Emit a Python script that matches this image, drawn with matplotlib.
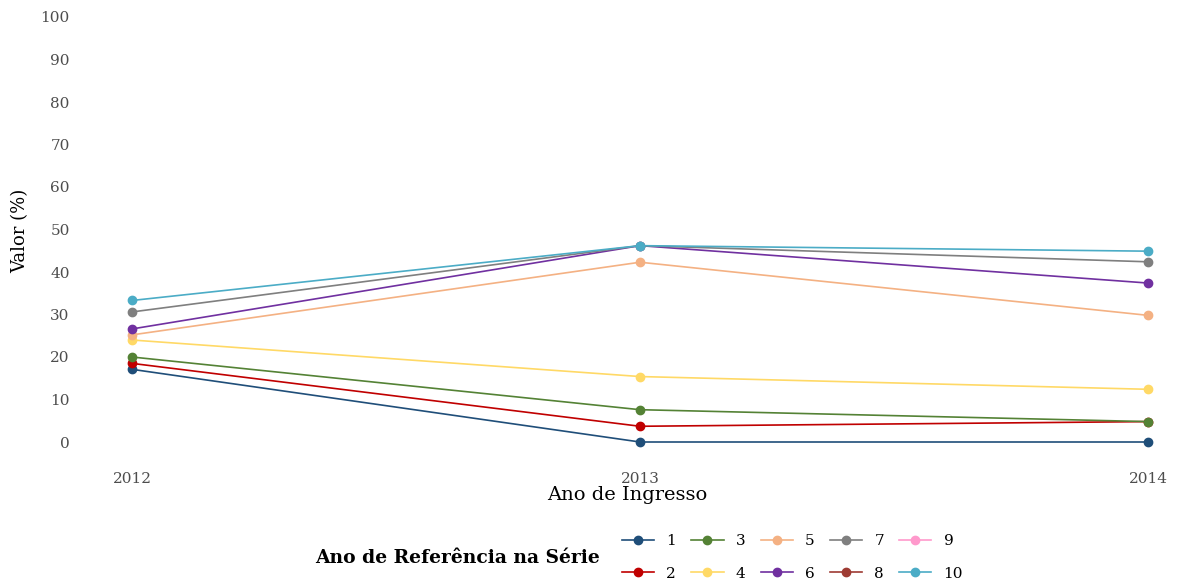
import numpy as np
import matplotlib
matplotlib.use("Agg")
import matplotlib.pyplot as plt
from matplotlib.lines import Line2D

years = [2012, 2013, 2014]
series_names = ["1", "2", "3", "4", "5", "6", "7", "8", "9", "10"]
s1 = [17.1, 0.0, 0.0]
s2 = [18.5, 3.7, 4.8]
s3 = [20.0, 7.6, 4.8]
s4 = [24.0, 15.4, 12.4]
s5 = [25.2, 42.3, 29.8]
s6 = [26.6, 46.2, 37.4]
s7 = [30.6, 46.2, 42.4]
s8 = [np.nan, np.nan, np.nan]
s9 = [np.nan, np.nan, np.nan]
s10 = [33.3, 46.2, 44.9]
values = [s1, s2, s3, s4, s5, s6, s7, s8, s9, s10]
colors = ["#1F4E79", "#C00000", "#548235", "#FFD966", "#F4B183",
          "#7030A0", "#7F7F7F", "#9E3B33", "#FF99CC", "#4BACC6"]
y_ticks = [0, 10, 20, 30, 40, 50, 60, 70, 80, 90, 100]

plt.rcParams['font.family'] = ['DejaVu Serif', 'Liberation Serif']

W, H = 1177, 584
fig = plt.figure(figsize=(W / 100, H / 100), dpi=100)
left_px, right_px, top_px, bot_px = 78, 1177, 0, 462
ax = fig.add_axes([left_px / W, 1 - bot_px / H, (right_px - left_px) / W, (bot_px - top_px) / H])

handles = []
for name, vals, c in zip(series_names, values, colors):
    ax.plot(years, vals, color=c, lw=1.2, marker="o", ms=6, zorder=3)
    handles.append(Line2D([0], [0], color=c, lw=1.2, marker="o", ms=6))

px_per_year = 508.0
px_per_unit = 4.25
ax.set_xlim(2012 - (132 - left_px) / px_per_year, 2014 + (right_px - 1148) / px_per_year)
ax.set_ylim(0 - (bot_px - 442) / px_per_unit, 100 + (17 - top_px) / px_per_unit)

ax.set_xticks(years)
ax.set_xticklabels([str(y) for y in years])
ax.set_yticks(y_ticks)
ax.tick_params(axis="both", length=0, labelsize=11, labelcolor="#4D4D4D")
ax.tick_params(axis="y", pad=6)
ax.tick_params(axis="x", pad=7.5)
for sp in ax.spines.values():
    sp.set_visible(False)
ax.set_facecolor("white")

ax.set_xlabel("Ano de Ingresso", fontsize=14, labelpad=0)
ax.set_ylabel("Valor (%)", fontsize=13, labelpad=8)

fig.text(315 / W, 1 - 558 / H, "Ano de Referência na Série", fontsize=13.5,
         fontweight="bold", ha="left", va="center")

leg = fig.legend(handles, series_names, ncol=5, loc="center left",
                 bbox_to_anchor=(616 / W, 1 - 557.5 / H), frameon=False,
                 fontsize=11, handlelength=2.1, handletextpad=0.8,
                 columnspacing=1.0, labelspacing=1.2, borderaxespad=0)

fig.savefig("out.png", dpi=100, facecolor="white")
